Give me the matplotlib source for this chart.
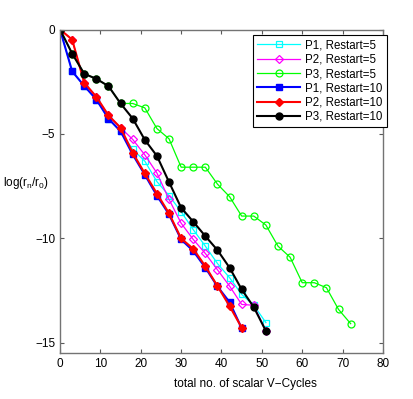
# Convergence of residual vs. total scalar V-cycles for three preconditioners.

import matplotlib
matplotlib.use('Agg')
import matplotlib.pyplot as plt

plt.rcParams['font.family'] = ['Liberation Sans', 'DejaVu Sans']

cycles_p1_r10 = [0, 3, 6, 9, 12, 15, 18, 21, 24, 27, 30, 33, 36, 39, 42, 45]
p1_r10 = [0, -2.0, -2.7, -3.35, -4.27, -4.87, -5.98, -6.95, -7.95, -8.85,
          -10.05, -10.6, -11.4, -12.3, -13.05, -14.3]

cycles_p2_r10 = [0, 3, 6, 9, 12, 15, 18, 21, 24, 27, 30, 33, 36, 39, 42, 45]
p2_r10 = [0, -0.48, -2.55, -3.22, -4.11, -4.7, -5.9, -6.89, -7.85, -8.8,
          -10.0, -10.5, -11.33, -12.28, -13.24, -14.27]

cycles_p3_r10 = [0, 3, 6, 9, 12, 15, 18, 21, 24, 27, 30, 33, 36, 39, 42, 45, 48, 51]
p3_r10 = [0, -1.15, -2.12, -2.36, -2.71, -3.54, -4.26, -5.28, -6.05, -7.3,
          -8.53, -9.2, -9.89, -10.56, -11.4, -12.44, -13.29, -14.43]

cycles_p1_r5 = [0, 3, 6, 9, 12, 15, 18, 21, 24, 27, 30, 33, 36, 39, 42, 45, 48, 51]
p1_r5 = [0, -2.0, -2.7, -3.35, -4.27, -4.87, -5.74, -6.3, -7.28, -7.95,
         -8.72, -9.58, -10.37, -11.2, -11.88, -12.68, -13.2, -14.03]

cycles_p2_r5 = [0, 3, 6, 9, 12, 15, 18, 21, 24, 27, 30, 33, 36, 39, 42, 45, 48, 51]
p2_r5 = [0, -0.48, -2.55, -3.22, -4.11, -4.7, -5.26, -6.0, -6.87, -8.13,
         -9.27, -10.05, -10.72, -11.5, -12.28, -13.16, -13.2, -14.43]

cycles_p3_r5 = [0, 3, 6, 9, 12, 15, 18, 21, 24, 27, 30, 33, 36, 39, 42, 45,
                48, 51, 54, 57, 60, 63, 66, 69, 72]
p3_r5 = [0, -1.15, -2.12, -2.36, -2.71, -3.54, -3.54, -3.75, -4.74, -5.23,
         -6.59, -6.59, -6.59, -7.4, -8.0, -8.93, -8.93, -9.36, -10.37, -10.9,
         -12.12, -12.12, -12.36, -13.4, -14.08]

fig = plt.figure(figsize=(4.14, 3.99), dpi=100)
ax = fig.add_axes([0.145, 0.1145, 0.78, 0.8115])

thin = dict(lw=0.9, ms=5, mfc='none', mew=0.9)
thick = dict(lw=1.5, ms=5)

ax.plot(cycles_p1_r5, p1_r5, '-s', color='#00ffff', label='P1, Restart=5', **thin)
ax.plot(cycles_p2_r5, p2_r5, '-D', color='#ff00ff', label='P2, Restart=5',
        lw=0.9, ms=4.5, mfc='none', mew=0.9)
ax.plot(cycles_p3_r5, p3_r5, '-o', color='#00ff00', label='P3, Restart=5', **thin)
ax.plot(cycles_p1_r10, p1_r10, '-s', color='#0000ff', label='P1, Restart=10',
        lw=1.5, ms=4.5)
ax.plot(cycles_p2_r10, p2_r10, '-D', color='#ff0000', label='P2, Restart=10',
        lw=1.5, ms=4.5)
ax.plot(cycles_p3_r10, p3_r10, '-o', color='black', label='P3, Restart=10', **thick)

ax.set_xlim(0, 80)
ax.set_ylim(-15.5, 0)
ax.set_xticks(range(0, 81, 10))
ax.set_yticks([-15, -10, -5, 0])
ax.tick_params(direction='in', top=True, right=True, length=3, width=0.8,
               labelsize=8.5, color='0.35')
for s in ax.spines.values():
    s.set_color('0.45')
    s.set_linewidth(1.0)

ax.set_xlabel('total no. of scalar V\u2212Cycles', fontsize=8.5)
ax.xaxis.set_label_coords(0.573, -0.075)
ax.set_ylabel('log(r$_\\mathregular{n}$/r$_\\mathregular{0}$)', fontsize=8.5, rotation=0)
ax.yaxis.set_label_coords(-0.105, 0.5)

leg = ax.legend(loc='upper right', bbox_to_anchor=(1.011, 0.982), fontsize=8.3,
                fancybox=False, framealpha=1, edgecolor='black',
                handlelength=3.8, labelspacing=0.2, borderpad=0.35,
                handletextpad=0.4, borderaxespad=0)
leg.get_frame().set_linewidth(0.8)

fig.savefig('out.png', dpi=100)
